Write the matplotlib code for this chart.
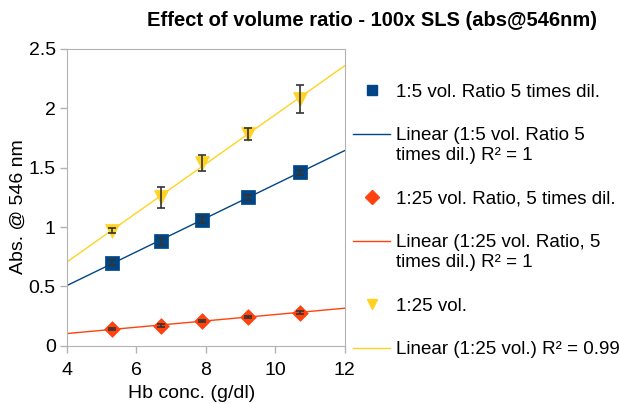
import numpy as np
import matplotlib.pyplot as plt
from matplotlib.legend_handler import HandlerLine2D

plt.rcParams['font.family'] = ['Liberation Sans', 'DejaVu Sans']

hb_conc = [5.3, 6.7, 7.9, 9.2, 10.7]
abs_1to5 = [0.70, 0.88, 1.06, 1.25, 1.46]
err_1to5 = [0.02, 0.03, 0.03, 0.02, 0.02]
abs_1to25_dil = [0.14, 0.17, 0.21, 0.245, 0.28]
err_1to25_dil = [0.01, 0.01, 0.01, 0.01, 0.01]
abs_1to25 = [0.97, 1.25, 1.54, 1.78, 2.08]
err_1to25 = [0.02, 0.09, 0.07, 0.05, 0.12]

labels = ["1:5 vol. Ratio 5 times dil.",
          "1:25 vol. Ratio, 5 times dil.",
          "1:25 vol."]
fit_labels = ["Linear (1:5 vol. Ratio 5\ntimes dil.) R² = 1",
              "Linear (1:25 vol. Ratio, 5\ntimes dil.) R² = 1",
              "Linear (1:25 vol.) R² = 0.99"]
colors = ["#004586", "#ff420e", "#ffd320"]
markers = ["s", "D", "v"]
sizes = [10, 8, 10]
LEG_FS = 13.5


class TopLine(HandlerLine2D):
    # put the line next to the first row of a two-row label
    def create_artists(self, legend, orig_handle, xdescent, ydescent, width,
                       height, fontsize, trans):
        arts = super().create_artists(legend, orig_handle, xdescent, ydescent,
                                      width, height, fontsize, trans)
        for a in arts:
            a.set_ydata(np.asarray(a.get_ydata()) + 0.6 * fontsize)
        return arts


fig = plt.figure(figsize=(6.2, 4.04), dpi=100)
ax = fig.add_axes([0.108, 0.144, 0.448, 0.735])

series = [(abs_1to5, err_1to5), (abs_1to25_dil, err_1to25_dil), (abs_1to25, err_1to25)]
handles = []
hmap = {}
xfit = np.array([4, 12])
for (y, e), c, m, s, lab, flab in zip(series, colors, markers, sizes, labels, fit_labels):
    k, b = np.polyfit(hb_conc, y, 1)
    ln, = ax.plot(xfit, k * xfit + b, color=c, lw=1, zorder=2)
    ax.scatter(hb_conc, y, marker=m, s=s ** 2, color=c, zorder=3,
               edgecolors=c, linewidths=0.5)
    ax.errorbar(hb_conc, y, yerr=e, fmt="none", ecolor="#333333", elinewidth=1.2,
                capsize=3, capthick=1.2, zorder=4)
    pt_h = plt.Line2D([], [], ls="none", marker=m, color=c, markersize=7)
    if "\n" in flab:
        hmap[ln] = TopLine()
    handles += [(pt_h, lab), (ln, flab)]

ax.set_xlim(4, 12)
ax.set_ylim(0, 2.5)
ax.set_xticks([4, 6, 8, 10, 12])
ax.set_yticks([0, 0.5, 1, 1.5, 2, 2.5])
ax.set_yticklabels(["0", "0.5", "1", "1.5", "2", "2.5"])
ax.tick_params(labelsize=14, color="#b3b3b3", length=5, width=1)
ax.tick_params(axis="x", pad=7)
ax.tick_params(axis="y", pad=3)
for sp in ax.spines.values():
    sp.set_color("#b3b3b3")
ax.set_xlabel("Hb conc. (g/dl)", fontsize=14)
ax.set_ylabel("Abs. @ 546 nm", fontsize=14)
ax.xaxis.set_label_coords(0.45, -0.132)
ax.yaxis.set_label_coords(-0.145, 0.468)
fig.text(0.60, 0.95, "Effect of volume ratio - 100x SLS (abs@546nm)", fontsize=14.5,
         fontweight="bold", ha="center", va="center")

fig.legend([h for h, _ in handles], [l for _, l in handles], handler_map=hmap,
           loc="upper left", bbox_to_anchor=(0.557, 0.812), frameon=False,
           fontsize=LEG_FS, handlelength=2.0, handletextpad=0.3, labelspacing=1.42,
           borderpad=0.4, borderaxespad=0)

fig.savefig("out.png", dpi=100)
